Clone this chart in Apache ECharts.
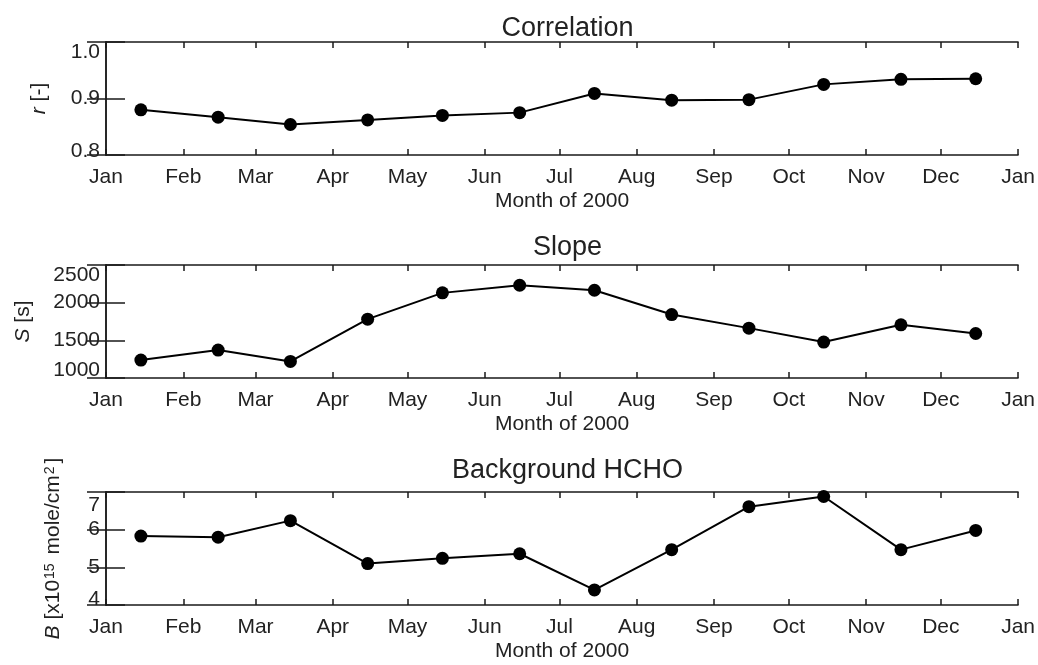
<!DOCTYPE html>
<html>
<head>
<meta charset="utf-8">
<script src="https://cdn.jsdelivr.net/npm/echarts@6/dist/echarts.min.js"></script>
<style>
  html, body { margin: 0; padding: 0; background: #fff; }
  #chart { width: 1038px; height: 665px; }
</style>
</head>
<body>
<div id="chart"></div>
<script>
// ---- Data ----
const dates = ['2000-01-15','2000-02-15','2000-03-15','2000-04-15','2000-05-15','2000-06-15',
               '2000-07-15','2000-08-15','2000-09-15','2000-10-15','2000-11-15','2000-12-15'];
const correlation = [0.880, 0.867, 0.854, 0.862, 0.870, 0.875, 0.909, 0.897, 0.898, 0.925, 0.934, 0.935];
const slope = [1238, 1371, 1220, 1781, 2130, 2231, 2165, 1842, 1662, 1477, 1706, 1591];
const background = [5.83, 5.80, 6.24, 5.10, 5.24, 5.36, 4.40, 5.47, 6.61, 6.88, 5.47, 5.98];
const monthTickDates = ['2000-01-01','2000-02-01','2000-03-01','2000-04-01','2000-05-01','2000-06-01',
                        '2000-07-01','2000-08-01','2000-09-01','2000-10-01','2000-11-01','2000-12-01','2001-01-01'];
const monthLabels = ['Jan','Feb','Mar','Apr','May','Jun','Jul','Aug','Sep','Oct','Nov','Dec','Jan'];
const titles = ['Correlation', 'Slope', 'Background HCHO'];
const xName = 'Month of 2000';
const yNames = ['{i|r} [-]', '{i|S} [s]', '{i|B} [x10{sup|15} mole/cm{sup|2}]'];
const yTicks = [[0.8, 0.9, 1.0], [1000, 1500, 2000, 2500], [4, 5, 6, 7]];

// ---- Helpers ----
function dayOfYear(s) {
  const p = s.split('-').map(Number);
  return (Date.UTC(p[0], p[1] - 1, p[2]) - Date.UTC(2000, 0, 1)) / 86400000;
}
const monthStarts = monthTickDates.map(dayOfYear);
const xs = dates.map(dayOfYear);
const FONT = 'Liberation Sans, Arial, Helvetica, sans-serif';
const TXT = '#222';
const LINE = '#1a1a1a';

const gridTops = [42, 265, 492];
const gridH = 113;
const nameGaps = [56, 72, 42];
const titleTops = [10, 229, 452];
const topPads = [20, 20, 26];
const botPads = [8, 16, 12];
const seriesData = [correlation, slope, background];
const yFmt = [v => v.toFixed(1), v => String(Math.round(v)), v => String(Math.round(v))];

const grid = [], xAxis = [], yAxis = [], series = [], title = [];
for (let i = 0; i < 3; i++) {
  grid.push({ left: 106, right: 19, top: gridTops[i], height: gridH, containLabel: false });
  title.push({
    text: titles[i], left: 562.5, top: titleTops[i], textAlign: 'center',
    textStyle: { fontFamily: FONT, fontSize: 27, fontWeight: 'normal', color: TXT }
  });
  const tk = yTicks[i];
  const ymin = tk[0], ymax = tk[tk.length - 1], yint = tk[1] - tk[0];
  const lblBase = { fontFamily: FONT, fontSize: 21, color: TXT };
  // bottom x axis
  xAxis.push({
    type: 'value', gridIndex: i, position: 'bottom', min: 0, max: 366,
    name: xName, nameLocation: 'middle', nameGap: 36,
    nameTextStyle: { fontFamily: FONT, fontSize: 21, color: TXT },
    axisLine: { show: true, lineStyle: { color: LINE, width: 1.5 } },
    axisTick: { show: true, inside: true, length: 6, customValues: monthStarts, lineStyle: { color: LINE, width: 1.5 } },
    axisLabel: {
      show: true, customValues: monthStarts, margin: 12, showMinLabel: true, showMaxLabel: true,
      fontFamily: FONT, fontSize: 21, color: TXT,
      formatter: v => monthLabels[monthStarts.indexOf(v)] || ''
    },
    splitLine: { show: false }
  });
  // top x axis (frame)
  xAxis.push({
    type: 'value', gridIndex: i, position: 'top', min: 0, max: 366,
    axisLine: { show: true, lineStyle: { color: LINE, width: 1.5 } },
    axisTick: { show: true, inside: true, length: 6, customValues: monthStarts, lineStyle: { color: LINE, width: 1.5 } },
    axisLabel: { show: false },
    splitLine: { show: false }
  });
  // left y axis
  const fmt = yFmt[i];
  yAxis.push({
    type: 'value', gridIndex: i, position: 'left', min: ymin, max: ymax, interval: yint,
    name: yNames[i], nameLocation: 'middle', nameGap: nameGaps[i],
    nameTextStyle: {
      fontFamily: FONT, fontSize: 21, color: TXT,
      rich: {
        i: { fontFamily: FONT, fontSize: 21, fontStyle: 'italic', color: TXT },
        sup: { fontFamily: FONT, fontSize: 14, color: TXT, verticalAlign: 'top', padding: [0, 3, 0, 1] }
      }
    },
    axisLine: { show: true, lineStyle: { color: LINE, width: 1.5 } },
    axisTick: { show: true, inside: true, length: 19, lineStyle: { color: LINE, width: 1.5 } },
    axisLabel: {
      show: true, margin: 6, fontFamily: FONT, fontSize: 21, color: TXT,
      showMinLabel: true, showMaxLabel: true, hideOverlap: false,
      formatter: v => {
        if (Math.abs(v - ymax) < 1e-9) return '{t|' + fmt(v) + '}';
        if (Math.abs(v - ymin) < 1e-9) return '{b|' + fmt(v) + '}';
        return fmt(v);
      },
      rich: {
        t: Object.assign({ padding: [topPads[i], 0, 0, 0] }, lblBase),
        b: Object.assign({ padding: [0, 0, botPads[i], 0] }, lblBase)
      }
    },
    splitLine: { show: false }
  });
  // right y axis (frame)
  yAxis.push({
    type: 'value', gridIndex: i, position: 'right', min: ymin, max: ymax, interval: yint,
    axisLine: { show: true, lineStyle: { color: LINE, width: 1.5 } },
    axisTick: { show: true, inside: true, length: 19, lineStyle: { color: LINE, width: 1.5 } },
    axisLabel: { show: false },
    splitLine: { show: false }
  });
  series.push({
    type: 'line', xAxisIndex: i * 2, yAxisIndex: i * 2,
    data: xs.map((x, k) => [x, seriesData[i][k]]),
    symbol: 'circle', symbolSize: 13, showSymbol: true,
    itemStyle: { color: '#000' },
    lineStyle: { color: '#000', width: 2 },
    animation: false, silent: true
  });
}

const chart = echarts.init(document.getElementById('chart'), null, { renderer: 'canvas' });
chart.setOption({
  backgroundColor: '#fff',
  animation: false,
  title, grid, xAxis, yAxis, series
});
</script>
</body>
</html>
